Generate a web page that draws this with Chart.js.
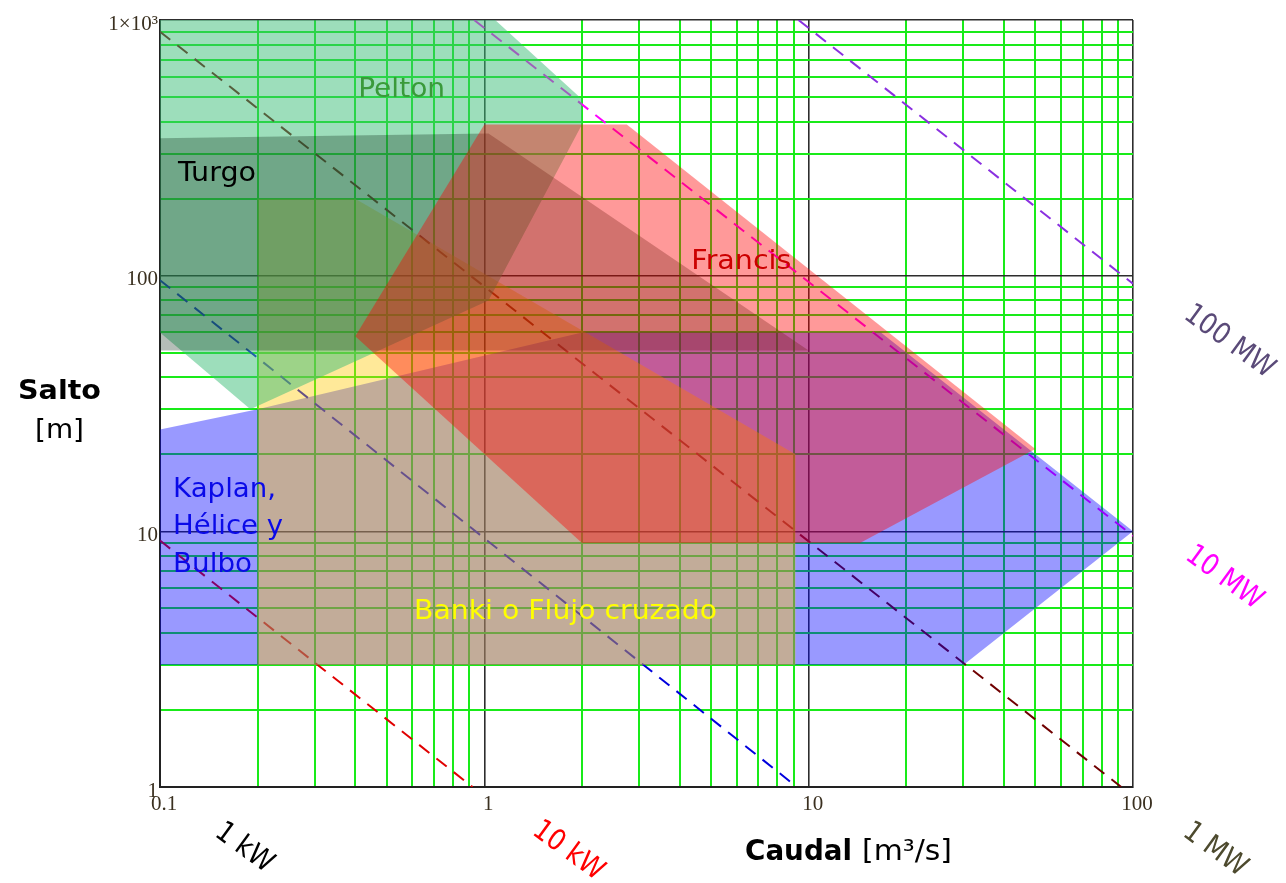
<!DOCTYPE html>
<html>
<head>
<meta charset="utf-8">
<script src="https://cdn.jsdelivr.net/npm/chart.js@4.4.0/dist/chart.umd.min.js"></script>
<style>
  html, body { margin: 0; padding: 0; background: #fff; }
</style>
</head>
<body>
<canvas id="chartcanvas" width="1286" height="883"></canvas>
<script>
// axis ranges and tick labels
const xMin = 0.1, xMax = 100;
const yMin = 1, yMax = 1000;
const xTickValues = [0.1, 1, 10, 100];
const xTickLabels = ['0.1', '1', '10', '100'];
const yTickValues = [1, 10, 100, 1000];
const yTickLabels = ['1', '10', '100', '1×10³'];

// turbine regions: caudal Q [m3/s], salto H [m]
const peltonQ = [0.1, 1.08, 2, 2, 1.03, 0.19, 0.1];
const peltonH = [1000, 1000, 490, 390, 80, 30, 60];
const turgoQ = [0.1, 1.03, 10, 0.1];
const turgoH = [345, 360, 51, 51];
const francisQ = [0.4, 1.0, 2.75, 50, 14.4, 2];
const francisH = [58, 390, 390, 21, 9, 9];
const bankiQ = [0.2, 0.4, 9.1, 9.1, 0.2];
const bankiH = [200, 200, 20, 3, 3];
const kaplanQ = [0.1, 0.2, 2, 16.7, 50, 100, 30, 0.1];
const kaplanH = [25, 30, 60, 60, 20, 10, 3, 3];

// constant power lines (end points)
const kw1Q = [0.1, 0.92];     const kw1H = [9.2, 1];
const kw10Q = [0.1, 9.2];     const kw10H = [96, 1];
const mw1Q = [0.1, 92];       const mw1H = [900, 1];
const mw10Q = [0.93, 100];    const mw10H = [1000, 9.6];
const mw100Q = [9.3, 100];    const mw100H = [1000, 93];

const canvas = document.getElementById('chartcanvas');
const ctx = canvas.getContext('2d');

function isDecade(v) {
  const l = Math.log10(v);
  return Math.abs(l - Math.round(l)) < 1e-6;
}

// grid positions 1..9 per decade
function gridValues(min, max) {
  const vals = [];
  for (let d = min; d < max * 0.999; d *= 10) {
    for (let k = 1; k < 10; k++) vals.push(+(d * k).toPrecision(3));
  }
  vals.push(max);
  return vals;
}

function tickLabel(values, labels) {
  return (v) => {
    const i = values.findIndex(t => Math.abs(t - v) / t < 1e-6);
    return i >= 0 ? labels[i] : '';
  };
}

function points(qs, hs, closed) {
  const pts = qs.map((q, i) => ({x: q, y: hs[i]}));
  if (closed) pts.push(pts[0]);
  return pts;
}

function region(label, qs, hs, color, order) {
  return {
    label: label,
    data: points(qs, hs, true),
    showLine: true,
    fill: 'shape',
    backgroundColor: color,
    borderColor: 'rgba(0,0,0,0)',
    borderWidth: 0,
    pointRadius: 0,
    tension: 0,
    order: order,
  };
}

function powerLine(label, qs, hs, color) {
  return {
    label: label,
    data: points(qs, hs, false),
    showLine: true,
    fill: false,
    borderColor: color,
    borderWidth: 2,
    borderDash: [13, 9],
    pointRadius: 0,
    order: 10,
  };
}

const gridStyle = {
  drawTicks: false,
  color: (c) => isDecade(c.tick.value) ? 'rgb(45,45,45)' : 'rgb(25,235,25)',
  lineWidth: (c) => isDecade(c.tick.value) ? 1.6 : 2,
};

const tickFont = {family: "'Liberation Serif', serif", size: 21};

// texts drawn over the chart
const regionLabels = [
  {text: 'Pelton', q: 0.556, h: 532, width: 87, color: '#3a9a3a', align: 'center'},
  {text: 'Turgo', q: 0.1136, h: 250, width: 78, color: '#000000', align: 'left'},
  {text: 'Francis', q: 6.2, h: 113, width: 100, color: '#cc0000', align: 'center'},
  {text: 'Kaplan,', q: 0.1097, h: 14.5, width: 103, color: '#0a0ae8', align: 'left'},
  {text: 'Hélice y', q: 0.1097, h: 10.4, width: 110, color: '#0a0ae8', align: 'left'},
  {text: 'Bulbo', q: 0.1097, h: 7.4, width: 79, color: '#0a0ae8', align: 'left'},
  {text: 'Banki o Flujo cruzado', q: 1.78, h: 4.84, width: 303, color: '#ffff00', align: 'center'},
];
const powerLabels = [
  {text: '1 kW', x: 244, y: 848, color: '#000000'},
  {text: '10 kW', x: 568, y: 851, color: '#ff0000'},
  {text: '1 MW', x: 1215, y: 850, color: '#4d4a2e'},
  {text: '10 MW', x: 1224, y: 578, color: '#ff00ff'},
  {text: '100 MW', x: 1229, y: 342, color: '#5a4a78'},
];

function drawFitted(c, text, x, y, width, font, color, align) {
  c.save();
  c.font = font;
  c.fillStyle = color;
  c.textBaseline = 'middle';
  c.textAlign = 'left';
  const w = c.measureText(text).width;
  const s = width / w;
  let left = x;
  if (align === 'center') left = x - width / 2;
  c.translate(left, y);
  c.scale(s, 1);
  c.fillText(text, 0, 0);
  c.restore();
}

const textPlugin = {
  id: 'texts',
  afterDraw(chart) {
    const c = chart.ctx;
    const sx = chart.scales.x, sy = chart.scales.y;
    regionLabels.forEach((l) => {
      drawFitted(c, l.text, sx.getPixelForValue(l.q), sy.getPixelForValue(l.h),
        l.width, "27px 'DejaVu Sans'", l.color, l.align);
    });
    // axis titles
    drawFitted(c, 'Salto', 18, 392, 83, "bold 27px 'DejaVu Sans'", '#000', 'left');
    drawFitted(c, '[m]', 35, 431, 49, "27px 'DejaVu Sans'", '#000', 'left');
    drawFitted(c, 'Caudal', 745, 853, 107, "bold 28px 'DejaVu Sans'", '#000', 'left');
    drawFitted(c, '[m³/s]', 862, 853, 90, "28px 'DejaVu Sans'", '#000', 'left');
    // power labels
    powerLabels.forEach((l) => {
      c.save();
      c.translate(l.x, l.y);
      c.rotate(36 * Math.PI / 180);
      c.scale(0.88, 1);
      c.font = "29px 'DejaVu Sans'";
      c.fillStyle = l.color;
      c.textAlign = 'center';
      c.textBaseline = 'middle';
      c.fillText(l.text, 0, 0);
      c.restore();
    });
  }
};

const chartConfig = {
  type: 'scatter',
  data: {
    datasets: [
      region('Francis', francisQ, francisH, 'rgba(255,0,0,0.4)', 1),
      region('Turgo', turgoQ, turgoH, 'rgba(10,40,20,0.3)', 2),
      region('Pelton', peltonQ, peltonH, 'rgba(60,190,120,0.5)', 3),
      region('Banki', bankiQ, bankiH, 'rgba(255,200,0,0.4)', 4),
      region('Kaplan', kaplanQ, kaplanH, 'rgba(0,0,255,0.4)', 5),
      powerLine('1 kW', kw1Q, kw1H, '#e00000'),
      powerLine('10 kW', kw10Q, kw10H, '#0000dd'),
      powerLine('1 MW', mw1Q, mw1H, '#700000'),
      powerLine('10 MW', mw10Q, mw10H, '#ff00ff'),
      powerLine('100 MW', mw100Q, mw100H, '#8a30e0'),
    ]
  },
  options: {
    responsive: false,
    animation: false,
    layout: {padding: {left: 0, top: 20, right: 153, bottom: 0}},
    scales: {
      x: {
        type: 'logarithmic',
        min: xMin,
        max: xMax,
        afterBuildTicks: (s) => { s.ticks = gridValues(xMin, xMax).map(v => ({value: v})); },
        afterFit: (s) => { s.height = 96; },
        grid: gridStyle,
        border: {display: true, color: '#222', width: 2},
        ticks: {
          autoSkip: false, maxRotation: 0, padding: 5, labelOffset: 4,
          font: tickFont, color: '#3a3020',
          callback: tickLabel(xTickValues, xTickLabels),
        },
      },
      y: {
        type: 'logarithmic',
        min: yMin,
        max: yMax,
        afterBuildTicks: (s) => { s.ticks = gridValues(yMin, yMax).map(v => ({value: v})); },
        afterFit: (s) => { s.width = 160; },
        grid: gridStyle,
        border: {display: true, color: '#222', width: 2},
        ticks: {
          autoSkip: false, padding: 2, labelOffset: 4,
          font: tickFont, color: '#3a3020',
          callback: tickLabel(yTickValues, yTickLabels),
        },
      }
    },
    plugins: {
      legend: {display: false},
      tooltip: {enabled: false},
    }
  },
  plugins: [textPlugin]
};

window.chart = new Chart(ctx, chartConfig);
</script>
</body>
</html>
